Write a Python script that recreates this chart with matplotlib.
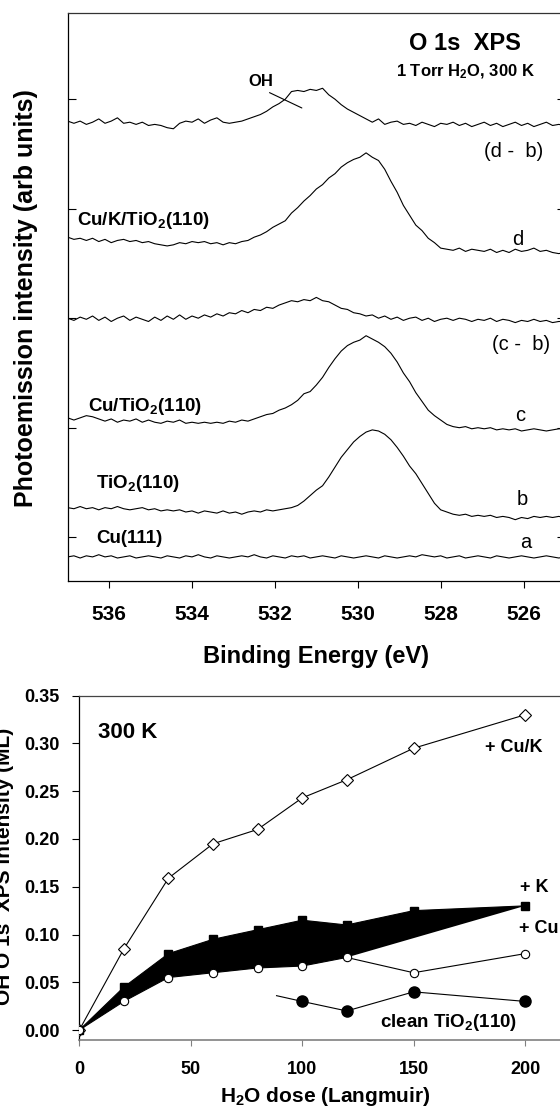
import numpy as np
import matplotlib
matplotlib.use("Agg")
import matplotlib.pyplot as plt

plt.rcParams["font.family"] = ["Liberation Sans", "DejaVu Sans"]
plt.rcParams["font.weight"] = "bold"
plt.rcParams["mathtext.fontset"] = "custom"
plt.rcParams["mathtext.rm"] = "Liberation Sans"
plt.rcParams["mathtext.bf"] = "Liberation Sans:bold"
plt.rcParams["mathtext.it"] = "Liberation Sans:italic"

# ---------------- O 1s spectra (stacked, arb. units) ----------------
energy = np.linspace(537.0, 525.0, 81)   # binding energy grid, 0.15 eV step

spec_a = [-0.18, -0.17, -0.19, -0.17, -0.18, -0.16, -0.18, -0.17, -0.19, -0.18,
          -0.17, -0.19, -0.18, -0.17, -0.18, -0.19, -0.17, -0.18, -0.19, -0.17,
          -0.18, -0.16, -0.18, -0.19, -0.17, -0.18, -0.19, -0.18, -0.17, -0.18,
          -0.16, -0.18, -0.19, -0.17, -0.18, -0.19, -0.17, -0.18, -0.17, -0.19,
          -0.18, -0.17, -0.18, -0.19, -0.17, -0.18, -0.19, -0.18, -0.17, -0.18,
          -0.19, -0.17, -0.18, -0.19, -0.18, -0.17, -0.18, -0.16, -0.17, -0.18,
          -0.17, -0.19, -0.18, -0.17, -0.19, -0.18, -0.17, -0.18, -0.19, -0.17,
          -0.18, -0.19, -0.18, -0.17, -0.18, -0.19, -0.18, -0.17, -0.18, -0.19,
          -0.18]

spec_b = [0.27, 0.26, 0.28, 0.26, 0.27, 0.25, 0.27, 0.26, 0.28, 0.26,
          0.25, 0.26, 0.27, 0.25, 0.26, 0.24, 0.25, 0.24, 0.25, 0.23,
          0.24, 0.22, 0.24, 0.23, 0.22, 0.24, 0.22, 0.23, 0.21, 0.23,
          0.24, 0.23, 0.25, 0.24, 0.25, 0.26, 0.27, 0.29, 0.33, 0.38,
          0.43, 0.47, 0.55, 0.64, 0.73, 0.80, 0.87, 0.92, 0.96, 0.98,
          0.97, 0.94, 0.89, 0.82, 0.74, 0.65, 0.58, 0.49, 0.40, 0.31,
          0.25, 0.23, 0.21, 0.20, 0.21, 0.19, 0.20, 0.19, 0.20, 0.18,
          0.19, 0.18, 0.16, 0.18, 0.17, 0.19, 0.18, 0.19, 0.18, 0.19,
          0.18]

spec_c = [1.09, 1.07, 1.09, 1.11, 1.10, 1.08, 1.06, 1.08, 1.05, 1.07,
          1.06, 1.08, 1.05, 1.07, 1.05, 1.04, 1.06, 1.05, 1.07, 1.04,
          1.05, 1.04, 1.05, 1.04, 1.05, 1.04, 1.06, 1.05, 1.07, 1.06,
          1.08, 1.10, 1.12, 1.13, 1.16, 1.18, 1.21, 1.25, 1.31, 1.33,
          1.39, 1.46, 1.55, 1.63, 1.70, 1.75, 1.78, 1.80, 1.84, 1.81,
          1.78, 1.74, 1.68, 1.60, 1.50, 1.42, 1.32, 1.24, 1.16, 1.11,
          1.07, 1.03, 1.01, 1.00, 1.01, 0.99, 1.00, 0.99, 1.00, 0.98,
          0.99, 0.98, 0.99, 0.97, 0.98, 0.99, 0.98, 0.97, 0.98, 0.99,
          0.99]

spec_c_minus_b = [2.00, 1.98, 2.01, 1.99, 2.02, 1.98, 2.01, 1.97, 2.00, 2.02,
                  1.98, 2.01, 1.99, 1.97, 2.01, 1.98, 2.02, 1.99, 2.03, 1.99,
                  2.02, 2.00, 2.03, 2.01, 2.04, 2.02, 2.05, 2.04, 2.07, 2.05,
                  2.08, 2.07, 2.10, 2.09, 2.12, 2.14, 2.16, 2.15, 2.17, 2.16,
                  2.19, 2.16, 2.15, 2.12, 2.09, 2.08, 2.05, 2.04, 2.02, 2.03,
                  2.00, 2.02, 1.99, 2.01, 1.98, 2.00, 2.01, 1.98, 2.00, 1.97,
                  1.99, 2.00, 1.98, 2.00, 1.99, 1.97, 1.99, 1.98, 2.00, 1.97,
                  1.99, 1.98, 1.96, 1.98, 1.97, 1.99, 1.97, 1.98, 1.96, 1.97,
                  1.97]

spec_d = [2.74, 2.72, 2.73, 2.71, 2.73, 2.70, 2.72, 2.69, 2.71, 2.72,
          2.70, 2.71, 2.69, 2.70, 2.68, 2.67, 2.66, 2.67, 2.69, 2.68,
          2.70, 2.69, 2.70, 2.68, 2.69, 2.67, 2.69, 2.68, 2.70, 2.71,
          2.74, 2.76, 2.79, 2.83, 2.86, 2.89, 2.96, 3.01, 3.07, 3.12,
          3.18, 3.22, 3.28, 3.32, 3.38, 3.42, 3.45, 3.47, 3.51, 3.47,
          3.44, 3.36, 3.25, 3.15, 3.03, 2.94, 2.85, 2.80, 2.73, 2.69,
          2.64, 2.63, 2.62, 2.64, 2.61, 2.63, 2.62, 2.61, 2.63, 2.60,
          2.62, 2.60, 2.63, 2.61, 2.62, 2.64, 2.61, 2.62, 2.60, 2.59,
          2.60]

spec_d_minus_b = [3.80, 3.78, 3.80, 3.77, 3.79, 3.82, 3.78, 3.80, 3.83, 3.78,
                  3.79, 3.77, 3.79, 3.76, 3.77, 3.76, 3.74, 3.73, 3.78, 3.80,
                  3.79, 3.82, 3.78, 3.81, 3.83, 3.79, 3.78, 3.79, 3.80, 3.82,
                  3.84, 3.86, 3.89, 3.93, 3.96, 4.00, 4.07, 4.08, 4.07, 4.09,
                  4.08, 4.10, 4.04, 4.00, 3.95, 3.91, 3.88, 3.85, 3.82, 3.79,
                  3.82, 3.77, 3.79, 3.80, 3.77, 3.78, 3.76, 3.79, 3.77, 3.75,
                  3.78, 3.77, 3.79, 3.76, 3.78, 3.75, 3.77, 3.79, 3.76, 3.78,
                  3.75, 3.77, 3.79, 3.76, 3.78, 3.75, 3.77, 3.79, 3.76, 3.77,
                  3.76]

spectra = [spec_a, spec_b, spec_c, spec_c_minus_b, spec_d, spec_d_minus_b]
energy_ticks = [536, 534, 532, 530, 528, 526]

# ---------------- OH uptake vs water dose ----------------
dose = [0, 20, 40, 60, 80, 100, 120, 150, 200]
oh_cuk = [0.0, 0.085, 0.159, 0.195, 0.210, 0.243, 0.262, 0.295, 0.330]
oh_k = [0.0, 0.045, 0.080, 0.095, 0.105, 0.115, 0.110, 0.125, 0.130]
oh_cu = [0.0, 0.030, 0.055, 0.060, 0.065, 0.067, 0.076, 0.060, 0.080]
clean_dose = [88.5, 100, 120, 150, 200]
oh_clean = [0.036, 0.030, 0.020, 0.040, 0.030]
dose_ticks = [0, 50, 100, 150, 200]
oh_ticks = [0.00, 0.05, 0.10, 0.15, 0.20, 0.25, 0.30, 0.35]

W, H = 560, 1119
fig = plt.figure(figsize=(W / 100, H / 100), dpi=100)


def frac_box(left, top, right, bottom):
    return [left / W, 1 - bottom / H, (right - left) / W, (bottom - top) / H]


# ======== top panel: spectra ========
ax1 = fig.add_axes(frac_box(67.7, 12.7, 565, 581))
for s in spectra:
    ax1.plot(energy, s, color="black", lw=0.8)
ax1.set_xlim(537, 525)
ax1.set_ylim(-0.4, 4.79)
ax1.set_xticks(energy_ticks)
ax1.set_yticks([0, 1, 2, 3, 4])
ax1.tick_params(axis="x", direction="out", length=5, width=0.8,
                labelsize=15, pad=12)
ax1.tick_params(axis="y", direction="in", length=6, width=0.8,
                left=True, right=True, labelleft=False)
for sp in ax1.spines.values():
    sp.set_linewidth(0.9)
ax1.spines["top"].set_color("#333333")

ax1.text(527.41, 4.449, "O 1s  XPS", fontsize=17, ha="center", va="baseline")
ax1.text(527.40, 4.212, r"1 Torr H$_\mathbf{2}$O, 300 K", fontsize=12,
         ha="center", va="baseline")
ax1.text(532.34, 4.12, "OH", fontsize=12, ha="center", va="baseline")
ax1.annotate("", xy=(531.35, 3.92), xytext=(532.13, 4.06),
             arrowprops=dict(arrowstyle="-", lw=0.8, color="black",
                             shrinkA=0, shrinkB=0))

for txt, x, y in [("(d -  b)", 526.23, 3.472), ("d", 526.13, 2.668),
                  ("(c -  b)", 526.06, 1.71), ("c", 526.07, 1.064),
                  ("b", 526.03, 0.294), ("a", 525.94, -0.099)]:
    ax1.text(x, y, txt, fontsize=14.5, fontweight="normal",
             ha="center", va="baseline")

for txt, x, y in [(r"Cu/K/TiO$_\mathbf{2}$(110)", 536.78, 2.851),
                  (r"Cu/TiO$_\mathbf{2}$(110)", 536.52, 1.153),
                  (r"TiO$_\mathbf{2}$(110)", 536.31, 0.447),
                  ("Cu(111)", 536.31, -0.056)]:
    ax1.text(x, y, txt, fontsize=13.5, ha="left", va="baseline")

fig.text(316 / W, 1 - 662.7 / H, "Binding Energy (eV)", fontsize=17,
         ha="center", va="baseline")
fig.text(26 / W, 1 - 298.5 / H, "Photoemission intensity (arb units)",
         fontsize=18, rotation=90, ha="center", va="center")

# ======== bottom panel: OH coverage ========
ax2 = fig.add_axes(frac_box(79.3, 695.7, 569.6, 1040))
ax2.set_xlim(0, 220)
ax2.set_ylim(-0.0104, 0.35)

# shaded band between the +K and +Cu curves
n_low = sum(1 for d in dose if d <= 120)
band_x = dose + dose[:n_low][::-1]
band_y = oh_k + oh_cu[:n_low][::-1]
ax2.fill(band_x, band_y, color="black", lw=0, zorder=2)

ax2.plot(dose, oh_cuk, color="black", lw=0.8, marker="D", ms=6.5,
         mfc="white", mec="black", mew=0.8, zorder=3)
ax2.plot(dose, oh_k, color="black", lw=0.8, marker="s", ms=5.5,
         mfc="black", mec="black", zorder=3)
ax2.plot(dose, oh_cu, color="black", lw=0.8, marker="o", ms=6,
         mfc="white", mec="black", mew=0.8, zorder=4)
ax2.plot(clean_dose, oh_clean, color="black", lw=0.8, marker="o", ms=8,
         mfc="black", mec="black", markevery=[1, 2, 3, 4], zorder=3)

ax2.set_xticks(dose_ticks)
ax2.set_yticks(oh_ticks)
ax2.set_yticklabels([f"{v:.2f}" for v in oh_ticks])
ax2.tick_params(axis="y", direction="out", length=5, width=0.8,
                labelsize=13, pad=9)
ax2.tick_params(axis="x", direction="out", length=4, width=0.8,
                labelsize=13, pad=11, color="#808080")
ax2.spines["left"].set_linewidth(0.9)
ax2.spines["top"].set_color("#444444")
ax2.spines["top"].set_linewidth(0.9)
ax2.spines["bottom"].set_color("#808080")
ax2.spines["bottom"].set_linewidth(1.2)
ax2.spines["right"].set_visible(False)

ax2.text(8.39, 0.3054, "300 K", fontsize=16, ha="left", va="baseline")
ax2.text(182.05, 0.2914, "+ Cu/K", fontsize=13, ha="left", va="baseline")
ax2.text(197.8, 0.1448, "+ K", fontsize=13, ha="left", va="baseline")
ax2.text(197.3, 0.1013, "+ Cu", fontsize=13, ha="left", va="baseline")
ax2.text(134.9, 0.0035, r"clean TiO$_\mathbf{2}$(110)", fontsize=13.5,
         ha="left", va="baseline")

fig.text(325 / W, 1 - 1101.7 / H, r"H$_\mathbf{2}$O dose (Langmuir)",
         fontsize=15, ha="center", va="baseline")
fig.text(5 / W, 1 - 866 / H, "OH O 1s  XPS intensity (ML)", fontsize=15,
         rotation=90, ha="center", va="center")

fig.savefig("out.png", dpi=100)
